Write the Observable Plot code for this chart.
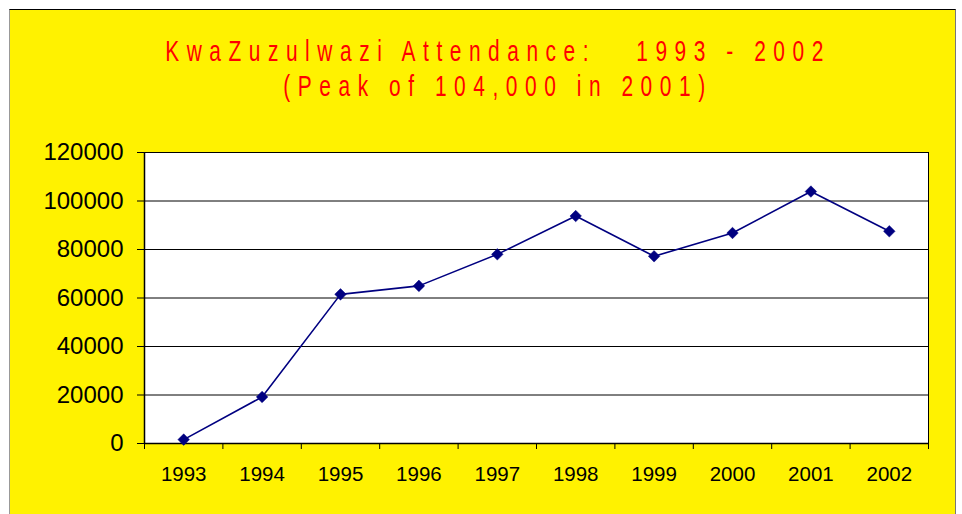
<!DOCTYPE html>
<html>
<head>
<meta charset="utf-8">
<script src="https://cdn.jsdelivr.net/npm/d3@7"></script>
<script src="https://cdn.jsdelivr.net/npm/@observablehq/plot@0.6"></script>
<style>
  html, body { margin: 0; padding: 0; background: #ffffff; }
  #wrap { position: relative; width: 962px; height: 514px; overflow: hidden; }
  #panel { position: absolute; left: 9px; top: 9px; width: 945px; height: 520px;
           background: #FFF200; border-top: 1px solid #000; border-left: 1px solid #999; border-right: 1px solid #777; }
  #chart { position: absolute; left: 0; top: 0; }
  .title { position: absolute; left: 0; width: 996px; text-align: center; color: #FF0000;
           font-family: "Liberation Sans", Arial, sans-serif; font-size: 29px; letter-spacing: 10.5px;
           white-space: pre; transform: scaleX(0.72); transform-origin: 498px 0; line-height: 1; }
</style>
</head>
<body>
<div id="wrap">
  <div id="panel"></div>
  <div id="chart"></div>
  <div class="title" id="t1" style="top:37px">KwaZuzulwazi Attendance:   1993 - 2002</div>
  <div class="title" id="t2" style="top:72px">(Peak of 104,000 in 2001)</div>
</div>
<script>
const years = [1993, 1994, 1995, 1996, 1997, 1998, 1999, 2000, 2001, 2002];
const attendance = [1600, 19200, 61500, 65000, 78000, 93800, 77200, 86800, 103900, 87500];
const yTicks = [0, 20000, 40000, 60000, 80000, 100000, 120000];
const data = years.map((y, i) => ({year: y, value: attendance[i]}));
const bounds = d3.range(years[0] - 0.5, years[years.length - 1] + 1, 1);

const chart = Plot.plot({
  width: 962,
  height: 514,
  marginLeft: 144,
  marginRight: 34,
  marginTop: 152,
  marginBottom: 71,
  style: {background: "transparent", fontFamily: "'Liberation Sans', Arial, sans-serif", color: "#000"},
  x: {type: "linear", domain: [years[0] - 0.5, years[years.length - 1] + 0.5]},
  y: {domain: [0, 120000]},
  marks: [
    Plot.frame({fill: "white", stroke: "none"}),
    Plot.gridY(yTicks, {stroke: "#000", strokeOpacity: 1, strokeWidth: 1}),
    Plot.frame({stroke: "#000", strokeWidth: 1}),
    Plot.ruleX([years[0] - 0.5], {stroke: "#000", strokeWidth: 1.5}),
    Plot.ruleY([0], {stroke: "#000", strokeWidth: 1.5}),
    Plot.axisY({ticks: yTicks, tickSize: 7, tickPadding: 14, fontSize: 24, label: null, tickFormat: d => String(d), stroke: "#000"}),
    Plot.axisX({ticks: bounds, tickSize: 6, tickFormat: () => "", label: null}),
    Plot.axisX({ticks: years, tickSize: 0, tickPadding: 23, fontSize: 20.5, label: null, tickFormat: d => String(d)}),
    Plot.line(data, {x: "year", y: "value", stroke: "#000080", strokeWidth: 1.6}),
    Plot.dot(data, {x: "year", y: "value", symbol: "diamond2", r: 5.2, fill: "#000080", stroke: "#000080", strokeWidth: 0.5})
  ]
});
document.getElementById("chart").appendChild(chart);
</script>
</body>
</html>
